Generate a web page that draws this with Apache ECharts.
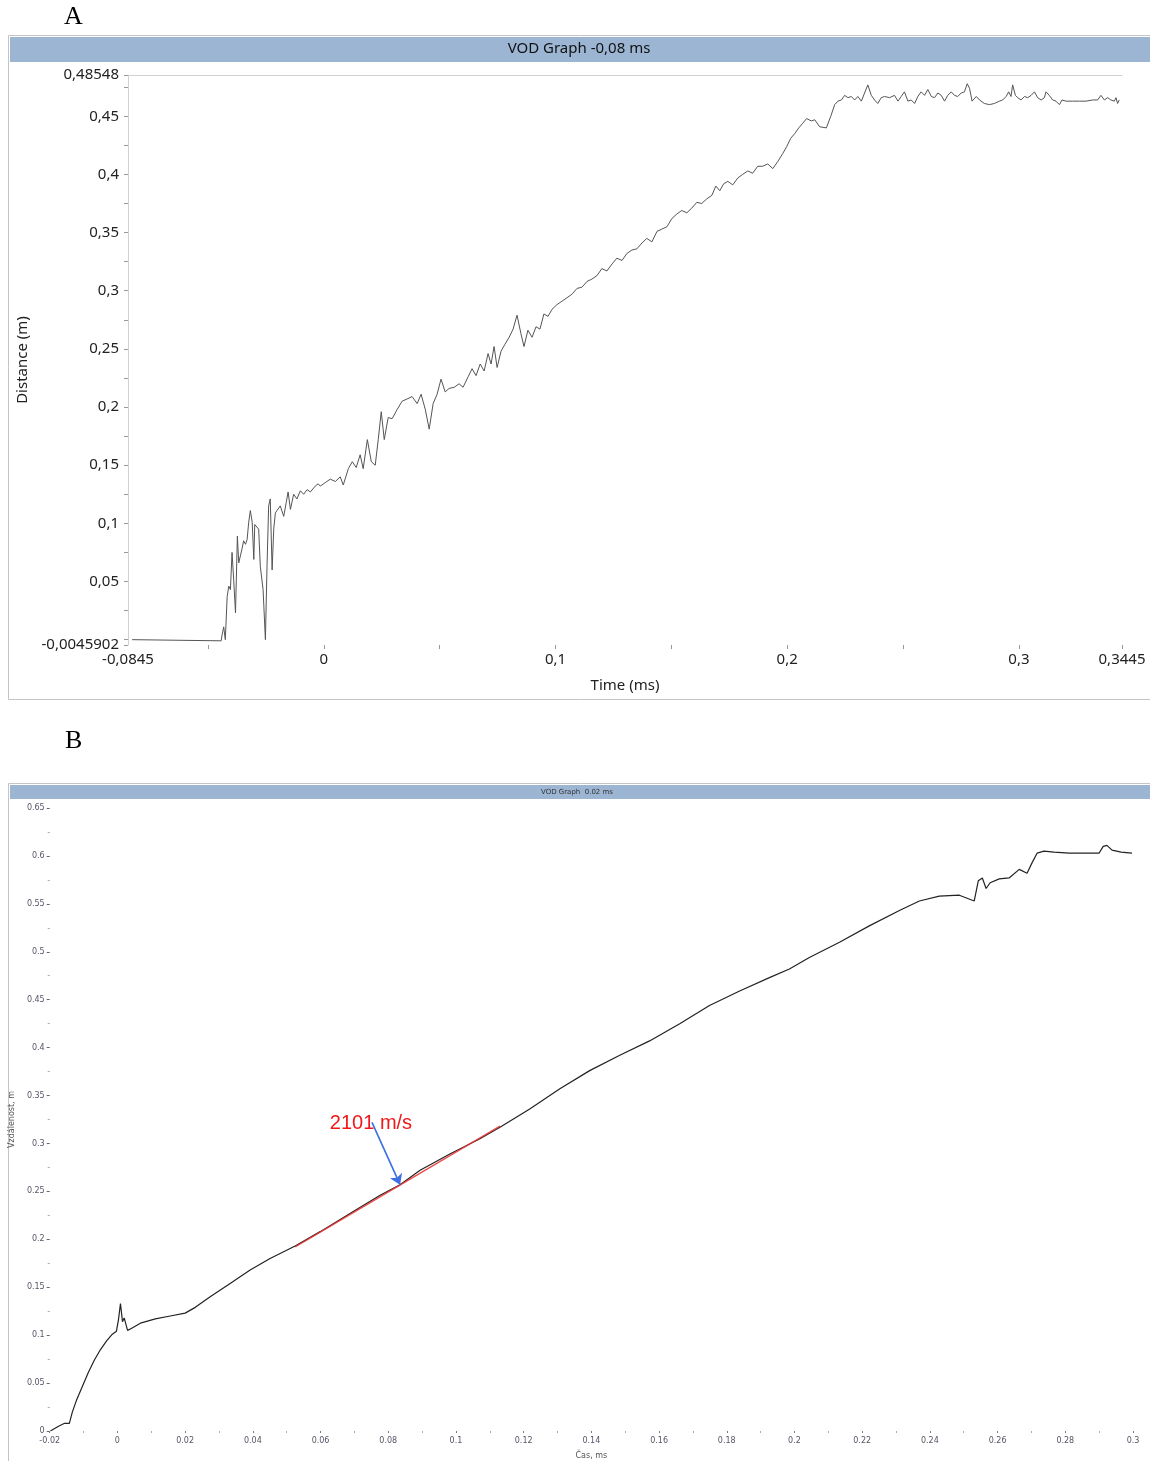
<!DOCTYPE html>
<html>
<head>
<meta charset="utf-8">
<script src="https://cdn.jsdelivr.net/npm/echarts@6/dist/echarts.min.js"></script>
<style>
  html, body { margin: 0; padding: 0; background: #fff; }
  #main { width: 1150px; height: 1461px; }
</style>
</head>
<body>
<div id="main"></div>
<script>
// ---- panel A : VOD Graph -0,08 ms ----
const timeA = [
  -0.0827, -0.0443, -0.0439, -0.0432, -0.0425, -0.0417, -0.0410, -0.0403, -0.0396, -0.0389,
  -0.0381, -0.0373, -0.0367, -0.0360, -0.0353, -0.0346, -0.0338, -0.0331, -0.0324, -0.0317,
  -0.0309, -0.0302, -0.0298, -0.0291, -0.0281, -0.0274, -0.0262, -0.0252, -0.0245, -0.0238,
  -0.0231, -0.0223, -0.0216, -0.0209, -0.0202, -0.0188, -0.0173, -0.0162, -0.0154, -0.0144,
  -0.0130, -0.0116, -0.0101, -0.0087, -0.0072, -0.0058, -0.0037, -0.0024, -0.0015, 0.0006,
  0.0028, 0.0050, 0.0071, 0.0084, 0.0106, 0.0123, 0.0140, 0.0157, 0.0170, 0.0188,
  0.0205, 0.0222, 0.0235, 0.0248, 0.0261, 0.0278, 0.0295, 0.0317, 0.0338, 0.0360,
  0.0381, 0.0403, 0.0420, 0.0438, 0.0455, 0.0472, 0.0489, 0.0506, 0.0524, 0.0541,
  0.0563, 0.0584, 0.0601, 0.0623, 0.0640, 0.0657, 0.0675, 0.0692, 0.0709, 0.0722,
  0.0735, 0.0748, 0.0765, 0.0782, 0.0800, 0.0817, 0.0834, 0.0851, 0.0864, 0.0881,
  0.0899, 0.0916, 0.0933, 0.0950, 0.0968, 0.0985, 0.1006, 0.1028, 0.1050, 0.1071,
  0.1093, 0.1114, 0.1136, 0.1157, 0.1179, 0.1200, 0.1222, 0.1244, 0.1265, 0.1287,
  0.1308, 0.1330, 0.1351, 0.1373, 0.1394, 0.1416, 0.1438, 0.1459, 0.1481, 0.1502,
  0.1524, 0.1545, 0.1567, 0.1588, 0.1610, 0.1631, 0.1653, 0.1675, 0.1692, 0.1709,
  0.1726, 0.1744, 0.1765, 0.1787, 0.1808, 0.1830, 0.1851, 0.1873, 0.1894, 0.1916,
  0.1938, 0.1959, 0.1981, 0.1998, 0.2015, 0.2032, 0.2050, 0.2067, 0.2084, 0.2104,
  0.2119, 0.2140, 0.2169, 0.2188, 0.2205, 0.2219, 0.2234, 0.2248, 0.2262, 0.2277,
  0.2291, 0.2305, 0.2320, 0.2334, 0.2348, 0.2363, 0.2377, 0.2391, 0.2406, 0.2420,
  0.2442, 0.2463, 0.2478, 0.2492, 0.2506, 0.2521, 0.2535, 0.2550, 0.2564, 0.2578,
  0.2593, 0.2607, 0.2622, 0.2636, 0.2650, 0.2665, 0.2679, 0.2693, 0.2708, 0.2722,
  0.2736, 0.2751, 0.2765, 0.2777, 0.2787, 0.2798, 0.2816, 0.2830, 0.2851, 0.2873,
  0.2894, 0.2916, 0.2930, 0.2945, 0.2956, 0.2966, 0.2973, 0.2985, 0.2995, 0.3009,
  0.3024, 0.3038, 0.3053, 0.3067, 0.3081, 0.3096, 0.3110, 0.3117, 0.3131, 0.3146,
  0.3160, 0.3175, 0.3186, 0.3203, 0.3232, 0.3261, 0.3290, 0.3318, 0.3340, 0.3354,
  0.3369, 0.3383, 0.3397, 0.3412, 0.3419, 0.3426, 0.3433
];
const distA = [
  0.000, -0.001, 0.004, 0.011, 0.000, 0.037, 0.046, 0.043, 0.075, 0.052,
  0.023, 0.089, 0.066, 0.072, 0.078, 0.085, 0.082, 0.086, 0.101, 0.111,
  0.101, 0.069, 0.099, 0.098, 0.095, 0.063, 0.043, 0.000, 0.063, 0.115,
  0.121, 0.060, 0.095, 0.109, 0.111, 0.115, 0.106, 0.118, 0.127, 0.112,
  0.125, 0.121, 0.128, 0.125, 0.129, 0.127, 0.132, 0.134, 0.132, 0.135,
  0.138, 0.136, 0.140, 0.133, 0.147, 0.153, 0.148, 0.159, 0.147, 0.172,
  0.153, 0.150, 0.172, 0.196, 0.172, 0.191, 0.190, 0.198, 0.205, 0.207,
  0.209, 0.203, 0.211, 0.198, 0.181, 0.203, 0.211, 0.224, 0.213, 0.216,
  0.217, 0.220, 0.217, 0.226, 0.233, 0.227, 0.237, 0.231, 0.246, 0.237,
  0.252, 0.234, 0.248, 0.254, 0.260, 0.267, 0.279, 0.263, 0.252, 0.266,
  0.260, 0.269, 0.267, 0.280, 0.278, 0.284, 0.288, 0.291, 0.294, 0.297,
  0.302, 0.303, 0.308, 0.310, 0.313, 0.319, 0.317, 0.323, 0.328, 0.326,
  0.332, 0.335, 0.336, 0.341, 0.345, 0.342, 0.351, 0.353, 0.355, 0.362,
  0.366, 0.369, 0.367, 0.371, 0.376, 0.375, 0.379, 0.382, 0.390, 0.386,
  0.392, 0.394, 0.391, 0.397, 0.400, 0.403, 0.401, 0.407, 0.407, 0.409,
  0.405, 0.411, 0.418, 0.424, 0.431, 0.435, 0.440, 0.444, 0.448, 0.446,
  0.447, 0.441, 0.440, 0.450, 0.460, 0.463, 0.464, 0.468, 0.466, 0.467,
  0.464, 0.467, 0.463, 0.470, 0.477, 0.468, 0.464, 0.461, 0.466, 0.467,
  0.466, 0.468, 0.463, 0.467, 0.471, 0.463, 0.464, 0.461, 0.467, 0.471,
  0.468, 0.473, 0.467, 0.466, 0.470, 0.468, 0.463, 0.468, 0.471, 0.468,
  0.467, 0.470, 0.471, 0.478, 0.474, 0.463, 0.467, 0.464, 0.461, 0.460,
  0.461, 0.463, 0.464, 0.467, 0.471, 0.467, 0.477, 0.468, 0.466, 0.464,
  0.467, 0.466, 0.468, 0.471, 0.466, 0.464, 0.466, 0.471, 0.468, 0.464,
  0.463, 0.460, 0.464, 0.463, 0.463, 0.463, 0.463, 0.464, 0.464, 0.468,
  0.464, 0.466, 0.464, 0.463, 0.466, 0.461, 0.464
];
const xLabelsA = [-0.0845, 0, 0.1, 0.2, 0.3, 0.3445];
const xTicksA = [-0.05, 0, 0.05, 0.1, 0.15, 0.2, 0.25, 0.3, 0.3445];
const yLabelsA = [-0.0045902, 0.05, 0.1, 0.15, 0.2, 0.25, 0.3, 0.35, 0.4, 0.45, 0.48548];
const yTicksA = [-0.0045902, 0, 0.025, 0.05, 0.075, 0.1, 0.125, 0.15, 0.175, 0.2, 0.225, 0.25,
  0.275, 0.3, 0.325, 0.35, 0.375, 0.4, 0.425, 0.45, 0.475, 0.48548];

// ---- panel B : VOD Graph 0.02 ms ----
const timeB = [
  -0.0198, -0.0174, -0.0156, -0.0142, -0.0133, -0.0121, -0.0103, -0.0086, -0.0068, -0.0050,
  -0.0032, -0.0015, -0.0003, 0.0003, 0.0009, 0.0015, 0.0020, 0.0030, 0.0041, 0.0068,
  0.0112, 0.0156, 0.0200, 0.0230, 0.0274, 0.0333, 0.0392, 0.0451, 0.0525, 0.0599,
  0.0687, 0.0776, 0.0835, 0.0894, 0.0982, 0.1071, 0.1130, 0.1218, 0.1307, 0.1395,
  0.1484, 0.1572, 0.1661, 0.1749, 0.1838, 0.1926, 0.1985, 0.2044, 0.2133, 0.2221,
  0.2310, 0.2369, 0.2428, 0.2487, 0.2531, 0.2543, 0.2555, 0.2566, 0.2578, 0.2605,
  0.2634, 0.2664, 0.2687, 0.2702, 0.2717, 0.2737, 0.2767, 0.2811, 0.2900, 0.2912,
  0.2923, 0.2938, 0.2965, 0.2997
];
const distB = [
  0.000, 0.005, 0.008, 0.008, 0.020, 0.032, 0.047, 0.061, 0.074, 0.085,
  0.094, 0.101, 0.104, 0.116, 0.133, 0.114, 0.118, 0.105, 0.107, 0.1125,
  0.117, 0.120, 0.123, 0.129, 0.140, 0.154, 0.168, 0.180, 0.193, 0.208,
  0.227, 0.246, 0.257, 0.272, 0.289, 0.305, 0.317, 0.336, 0.357, 0.376,
  0.392, 0.407, 0.425, 0.444, 0.459, 0.473, 0.482, 0.494, 0.510, 0.527,
  0.543, 0.553, 0.558, 0.559, 0.553, 0.574, 0.577, 0.566, 0.572, 0.576,
  0.577, 0.586, 0.582, 0.593, 0.603, 0.605, 0.604, 0.603, 0.603, 0.610,
  0.611, 0.606, 0.604, 0.603
];
// fitted section (velocity 2101 m/s)
const fitTime = [0.0525, 0.1130];
const fitDist = [0.192, 0.318];
const arrowFrom = [0.0752, 0.322];
const arrowTo = [0.0835, 0.257];
const fitLabel = '2101 m/s';

const pairs = (xs, ys) => xs.map((x, i) => [x, ys[i]]);
const comma = v => String(v).replace('.', ',');

const chart = echarts.init(document.getElementById('main'));
const fA = 'Noto Sans';
const fB = 'DejaVu Sans';

const option = {
  animation: false,
  backgroundColor: '#fff',
  graphic: [
    { type: 'text', left: 64, top: 4, style: { text: 'A', font: '26px "Liberation Serif"', fill: '#000' } },
    { type: 'text', left: 65, top: 728, style: { text: 'B', font: '26px "Liberation Serif"', fill: '#000' } },
    { type: 'rect', shape: { x: 8.5, y: 35.5, width: 1142, height: 664 }, style: { fill: 'none', stroke: '#c4c4c4', lineWidth: 1 } },
    { type: 'rect', shape: { x: 10, y: 37, width: 1140, height: 25 }, style: { fill: '#9bb5d3' } },
    { type: 'text', x: 579, y: 49, style: { text: 'VOD Graph -0,08 ms', font: '15px "Noto Sans"', fill: '#111', align: 'center', verticalAlign: 'middle' } },
    { type: 'rect', shape: { x: 8.5, y: 783.5, width: 1142, height: 700 }, style: { fill: 'none', stroke: '#c4c4c4', lineWidth: 1 } },
    { type: 'rect', shape: { x: 10, y: 785, width: 1140, height: 14 }, style: { fill: '#9bb5d3' } },
    { type: 'text', x: 577, y: 792, style: { text: 'VOD Graph  0.02 ms', font: '7px "DejaVu Sans"', fill: '#333', align: 'center', verticalAlign: 'middle' } }
  ],
  grid: [
    { left: 128, top: 75, width: 994, height: 570 },
    { left: 49, top: 808, width: 1084, height: 623 }
  ],
  xAxis: [
    {
      gridIndex: 0, type: 'value', min: -0.0845, max: 0.3445,
      axisLine: { show: false, onZero: false },
      axisTick: { show: true, customValues: xTicksA, length: 4, lineStyle: { color: '#999' } },
      axisLabel: { customValues: xLabelsA, formatter: comma, color: '#222', fontFamily: fA, fontSize: 15, margin: 7 },
      splitLine: { show: false },
      name: 'Time (ms)', nameLocation: 'middle', nameGap: 33,
      nameTextStyle: { color: '#222', fontFamily: fA, fontSize: 15 }
    },
    {
      gridIndex: 0, type: 'value', position: 'top', min: -0.0845, max: 0.3445,
      axisLine: { show: true, onZero: false, lineStyle: { color: '#d0d0d0' } },
      axisTick: { show: false }, axisLabel: { show: false }, splitLine: { show: false }
    },
    {
      gridIndex: 1, type: 'value', min: -0.02, max: 0.3, interval: 0.02,
      axisLine: { show: false, onZero: false },
      axisTick: { show: true, length: 2, lineStyle: { color: '#777' } },
      minorTick: { show: true, splitNumber: 2, length: 2, lineStyle: { color: '#aaa' } },
      axisLabel: { color: '#556', fontFamily: fB, fontSize: 8, margin: 6 },
      splitLine: { show: false },
      name: 'Čas, ms', nameLocation: 'middle', nameGap: 21,
      nameTextStyle: { color: '#555', fontFamily: fB, fontSize: 8 }
    }
  ],
  yAxis: [
    {
      gridIndex: 0, type: 'value', min: -0.0045902, max: 0.48548,
      axisLine: { show: true, onZero: false, lineStyle: { color: '#d0d0d0' } },
      axisTick: { show: true, customValues: yTicksA, length: 4, lineStyle: { color: '#999' } },
      axisLabel: { customValues: yLabelsA, formatter: comma, color: '#222', fontFamily: fA, fontSize: 15, margin: 9 },
      splitLine: { show: false },
      name: 'Distance (m)', nameLocation: 'middle', nameGap: 97,
      nameTextStyle: { color: '#222', fontFamily: fA, fontSize: 15 }
    },
    {
      gridIndex: 1, type: 'value', min: 0, max: 0.65, interval: 0.05,
      axisLine: { show: false, onZero: false },
      axisTick: { show: true, length: 3, lineStyle: { color: '#666' } },
      minorTick: { show: true, splitNumber: 2, length: 2, lineStyle: { color: '#aaa' } },
      axisLabel: { color: '#556', fontFamily: fB, fontSize: 8, margin: 5 },
      splitLine: { show: false },
      name: 'Vzdálenost, m', nameLocation: 'middle', nameGap: 24,
      nameTextStyle: { color: '#555', fontFamily: fB, fontSize: 8 }
    }
  ],
  series: [
    {
      type: 'line', xAxisIndex: 0, yAxisIndex: 0, data: pairs(timeA, distA),
      showSymbol: false, lineStyle: { color: '#555', width: 1 }
    },
    {
      type: 'line', xAxisIndex: 2, yAxisIndex: 1, data: pairs(timeB, distB),
      showSymbol: false, lineStyle: { color: '#222', width: 1.2 },
      markLine: {
        silent: true, symbol: ['none', 'arrow'], symbolSize: 10,
        lineStyle: { color: '#3b6fe3', width: 1.6, type: 'solid' },
        label: { show: false },
        data: [[{ coord: arrowFrom }, { coord: arrowTo }]]
      },
      markPoint: {
        silent: true, symbol: 'circle', symbolSize: 1,
        itemStyle: { color: 'rgba(0,0,0,0)' },
        label: { show: true, position: 'inside', formatter: fitLabel, color: '#f01818', fontFamily: 'Liberation Sans', fontSize: 20 },
        data: [{ coord: [0.0749, 0.321] }]
      }
    },
    {
      type: 'line', xAxisIndex: 2, yAxisIndex: 1, data: pairs(fitTime, fitDist),
      showSymbol: false, lineStyle: { color: '#e83030', width: 1.5, opacity: 0.85 }
    }
  ]
};
chart.setOption(option);
</script>
</body>
</html>
